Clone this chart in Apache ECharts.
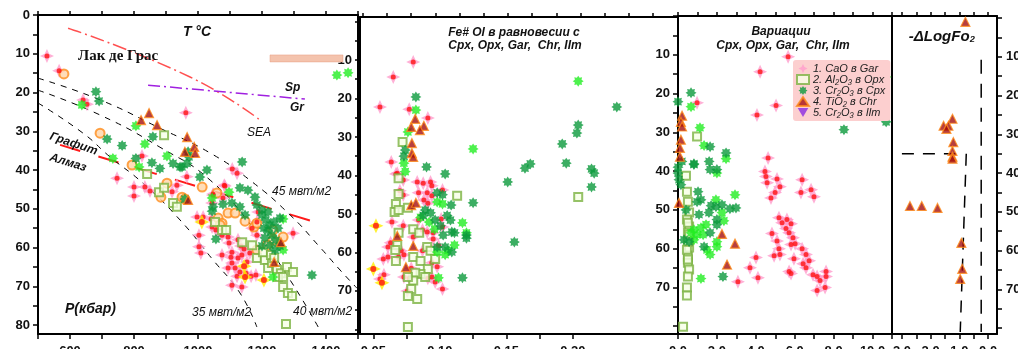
<!DOCTYPE html>
<html>
<head>
<meta charset="utf-8">
<script src="https://cdn.jsdelivr.net/npm/echarts@6.0.0/dist/echarts.min.js"></script>
<style>
  html, body { margin: 0; padding: 0; background: #fff; }
  #chart-container { width: 1018px; height: 349px; }
</style>
</head>
<body>
<div id="chart-container"></div>
<script>
// ---- axis ticks / labels ----
const p1XTicks = [500, 600, 700, 800, 900, 1000, 1100, 1200, 1300, 1400, 1500];
const p1XLabels = [600, 800, 1000, 1200, 1400];
const p2XTicks = [0.05, 0.075, 0.1, 0.125, 0.15, 0.175, 0.2];
const p2XLabels = [0.05, 0.1, 0.15, 0.2];
const p2TopTicks = [0.042, 0.06, 0.078, 0.097, 0.115, 0.133, 0.151, 0.169, 0.188, 0.206, 0.224, 0.242, 0.26];
const p3XTicks = [0, 1, 2, 3, 4, 5, 6, 7, 8, 9, 10, 11];
const p3XLabels = [0, 2, 4, 6, 8, 10];
const p4XTicks = [-3, -2.5, -2, -1.5, -1, -0.5, 0];
const p4XLabels = [-3, -2, -1, 0];
const pTicks = [0, 5, 10, 15, 20, 25, 30, 35, 40, 45, 50, 55, 60, 65, 70, 75, 80];
const p1YLabels = [0, 10, 20, 30, 40, 50, 60, 70, 80];
const pYLabels = [10, 20, 30, 40, 50, 60, 70];

// ---- panel 1 : T (°C) vs P (kbar) ----
const gar1 = [[528,10.6],[566,14.4],[641,21.9],[653,23],[962,25.2],[825,36.4],[1107,39.7],[1122,40.8],
  [747,42.1],[800,44.4],[800,46.7],[834,44.4],[850,45.4],[919,45.6],[934,43.9],[965,41.7],
  [997,52.1],[1003,56.8],[1003,59.8],[1009,61.4],[1016,52.1],[1044,54.7],[1082,43.9],[1047,46.5],
  [1084,44.1],[1047,46.2],[1041,52.6],[1056,55.5],[1075,56.8],[1094,57.3],[1075,61.9],[1097,58.8],
  [1106,61.2],[1125,58],[1134,59.6],[1144,60.4],[1103,62.5],[1125,62.7],[1106,64],[1116,65.3],
  [1131,66.3],[1094,65.3],[1150,66.6],[1166,67.4],[1181,67.1],[1137,70.2],[1122,67.4],[1169,55],
  [1184,53.4],[1184,56.8],[1188,50.8],[1162,61.4],[1153,63.7],[1137,61.9],[1297,56.3],[1044,48.5],
  [1078,47.2],[1106,69.7]];
const yel1 = [[1012,53.4],[1144,64.8],[1147,67.6],[1206,68.4]];
const ring1 = [[581,15.2],[694,30.5],[794,38.7],[903,43.4],[884,47],[950,47],[959,47.5],[1013,44.4],
  [1059,45.9],[1063,52.4],[1075,53.7],[1094,51.1],[1116,51.1],[1147,53.2],[1175,54.7],[1184,53.7],
  [1184,60.6],[1234,55.5],[1234,58.1],[1266,57.3],[1216,59.4],[1069,54.2]];
const opx1 = [[894,31],[841,41],[878,45.7],[894,44.6],[922,48.5],[934,49.5],[1053,53.4],[1075,55.5],
  [1088,55.5],[1138,58.6],[1169,59.4],[1184,62.7],[1209,63.2],[1219,65.3],[1231,64],[1247,65.8],
  [1259,66.6],[1250,67.6],[1266,67.6],[1278,65],[1297,66.3],[1266,70.2],[1281,71.7],[1294,72.5],
  [1275,79.7],[1203,61.2],[1228,61.9],[1238,62.7]];
const cpxD1 = [[681,19.8],[691,22.2],[716,32],[763,33.7],[856,38.1],[859,31.4],[922,38.3],[944,39.2],
  [881,39.6],[969,35.3],[972,36.6],[966,38.3],[1028,40],[1138,37.9],[806,37],[950,39.2],[1006,41.8],
  [1131,44.6],[1156,45.2],[1178,47],[1184,49],[1200,50.3],[959,47.5],[1047,49.5],[1044,50.6],
  [1078,48.8],[1106,48.5],[1131,49.5],[1147,51.6],[1056,57.8],[1200,51.6],[1212,52.9],[1225,54.2],
  [1237,53.4],[1219,55.5],[1231,56.8],[1209,57.5],[1244,58.1],[1225,59.4],[1250,55],[1256,52.4],
  [1206,55],[1200,59.6],[1241,60.6],[1256,59.6],[1219,50.8],[1356,67.1]];
const cpxL1 = [[637,23.2],[806,28.6],[834,33.3],[903,36.4],[816,39.2],[734,37],[1097,45.7],[1266,52.6],
  [1266,60.6],[1234,67.6],[1044,47.2],[1434,15.5],[1469,14.9]];
const chr1 = [[847,25.3],[822,27.1],[872,28.4],[966,31.5],[988,34],[991,35.6],[959,35.3],[969,47.7],
  [1238,63.7],[1259,58.6]];

// panel 1 reference lines
const seaLine = [[594,3.4],[975,16],[1194,27.1]];
const spGrLine = [[844,18.1],[1334,21.7]];
const grDiaLine = [[569,33.5],[1397,54.2]];
const geo45 = [[500,16.3],[694,21.9],[881,29.2],[1038,35.6],[1162,42.6],[1288,51.6],[1381,59.9],[1444,65.8],[1497,70.5]];
const geo40 = [[500,19.4],[694,25.8],[881,34.1],[1038,42.6],[1178,55.5],[1288,68.4],[1381,81.3]];
const geo35 = [[500,22.7],[641,30.5],[725,36.6],[828,43.4],[944,52.9],[1047,63.2],[1131,71.7],[1184,80.5]];
const hatchBox = [[1225,10.3],[1453,12.1]];

// ---- panel 2 : Fe# Ol vs P ----
const gar2 = [[0.080,10.5],[0.065,14.4],[0.055,22.2],[0.077,22.8],[0.091,25.1],[0.0635,36.5],[0.068,39.4],
  [0.067,39.6],[0.0725,41.2],[0.070,44],[0.0725,45.1],[0.083,41.7],[0.0875,42],[0.093,41.7],[0.094,42.7],
  [0.084,44.5],[0.0905,44.5],[0.094,45.3],[0.088,46.4],[0.102,43.8],[0.091,47.2],[0.064,52.1],[0.0725,53.1],
  [0.084,51.6],[0.087,54.2],[0.0905,54.7],[0.095,54.9],[0.101,51.3],[0.102,53.4],[0.080,56],[0.063,57.5],
  [0.061,58.6],[0.071,59.6],[0.073,60.6],[0.069,61.2],[0.0575,61.7],[0.061,61.2],[0.087,59.6],[0.095,56.5],
  [0.099,58.3],[0.094,62.7],[0.098,63.7],[0.094,66.4],[0.0965,67.7],[0.073,66.4],[0.077,66.7],[0.0785,64.1],
  [0.058,65.8],[0.055,66.9],[0.0755,70],[0.102,69.5],[0.091,66.7]];
const yel2 = [[0.052,53.1],[0.050,64.3],[0.0565,67.9]];
const opx2 = [[0.072,31.3],[0.069,40.7],[0.069,44.8],[0.067,47.4],[0.066,49.5],[0.069,49],[0.076,48.4],
  [0.113,45.3],[0.204,45.6],[0.069,54.9],[0.080,54],[0.0845,54.9],[0.068,58.1],[0.0665,59.4],[0.067,62.2],
  [0.080,61.2],[0.0855,62.2],[0.0905,58.6],[0.093,59.6],[0.0965,61.7],[0.091,64.3],[0.0855,65.6],
  [0.0815,65.3],[0.089,66.4],[0.080,67.3],[0.076,66.4],[0.0785,69.5],[0.076,71.3],[0.083,72.1],[0.076,79.4]];
const cpxD2 = [[0.082,19.6],[0.074,33.4],[0.073,35],[0.090,37.8],[0.104,39.6],[0.233,22.2],[0.192,31.8],
  [0.203,29],[0.204,26.9],[0.195,36.8],[0.168,37],[0.164,38.1],[0.214,38.3],[0.216,39.4],[0.098,44.5],
  [0.102,45],[0.1085,47.7],[0.125,47.1],[0.151,41.7],[0.156,57.3],[0.214,43],[0.117,66.6],[0.089,49],
  [0.0965,51.6],[0.1025,55.5],[0.108,51.6],[0.109,54.7],[0.111,54.9],[0.120,55.5],[0.120,56.3],
  [0.104,58.6],[0.109,59.9],[0.098,58.6],[0.1005,53.1],[0.0875,50.4],[0.093,49.7],[0.1055,50.4]];
const cpxL2 = [[0.204,15.5],[0.082,23],[0.076,28.7],[0.073,36.8],[0.074,39],[0.125,33.1],[0.098,46.9],
  [0.102,47.4],[0.117,52.3],[0.120,54.9],[0.111,58.1],[0.104,60.6],[0.098,59.9],[0.099,66.6],
  [0.0855,50.9],[0.092,52.1],[0.096,54],[0.106,59.5]];
const chr2 = [[0.0815,25.3],[0.0785,27.4],[0.088,27.1],[0.085,28.2],[0.079,31.6],[0.079,34.2],[0.080,35.2],
  [0.0785,47.7],[0.082,47.1],[0.068,55.7],[0.080,58.3],[0.0745,63.8]];

// ---- panel 3 : oxide wt% vs P ----
const gar3 = [[5.66,10.5],[4.22,14.4],[0.98,22.4],[4.06,25.5],[5.04,23.1],[4.63,36.6],[4.47,40.1],[4.52,41.4],
  [4.58,43],[5.09,42],[5.24,44],[4.99,45.5],[4.78,46.9],[6.38,42.2],[6.32,45.5],[6.84,44.8],[6.99,46.6],
  [5.19,52],[5.35,53.3],[5.6,52.5],[5.81,53.6],[5.55,54.8],[5.71,55.9],[4.83,56.1],[5.09,58],[5.91,57.2],
  [6.02,58.7],[5.81,58.9],[5.19,60],[4.94,61.8],[5.24,61.5],[6.38,60],[6.58,61.5],[5.96,62.6],[6.74,63.1],
  [6.43,63.9],[6.58,64.9],[5.71,65.9],[5.81,66.4],[6.94,66.7],[7.15,67.2],[7.61,65.9],[7.61,67.2],
  [7.3,68.2],[7.56,70],[7.15,70.8],[4.01,62.3],[3.7,64.9],[4.11,67.5],[3.08,68.5]];
const opx3 = [[0.98,31.1],[0.41,41.2],[0.46,45.3],[0.51,47.9],[0.57,50.7],[0.46,52.5],[0.57,54.3],[0.51,55.9],
  [0.57,57.7],[0.57,59.7],[0.51,62.1],[0.51,63.6],[0.57,65.4],[0.51,67.2],[0.46,70],[0.46,72.1],[0.26,80.1],
  [0.51,53.3],[0.57,56.4],[0.51,58.2],[0.46,60.3],[0.51,62.8]];
const cpxD3 = [[0.67,19.8],[0,22.1],[1.65,33.7],[2.47,35.3],[0.82,38.1],[1.6,37.5],[1.65,39.6],[2.0,39.6],
  [8.53,29.3],[10.7,27.3],[0.05,42.2],[0.15,43.5],[1.03,45.3],[1.18,47.4],[0.98,47.9],[1.7,48.9],[1.95,49.2],
  [2.26,48.7],[2.67,49.7],[2.98,49.5],[2.0,52.5],[1.59,50.7],[1.08,51.2],[0.41,50],[0.31,57.7],[0.57,58.2],
  [1.34,59.5],[1.65,55.9],[2.0,53.8],[2.31,67.2],[0.0,40.5],[0.0,39],[0.2,37.5],[0.82,38.3]];
const cpxL3 = [[0.67,23.4],[1.13,28.8],[1.34,33.4],[2.47,36.8],[10.7,15.7],[2.0,40.5],[2.93,46.1],[1.95,47.4],
  [2.26,50.7],[2.36,52.8],[0.82,55.1],[1.18,54.6],[1.44,53.8],[0.98,56.4],[1.29,56.4],[1.49,60.3],[2.0,58.2],
  [2.0,59.5],[1.65,61.5],[1.18,67.7],[0.67,55.9],[0.82,57.7]];
const chr3 = [[0.21,25.7],[0.15,27.3],[0.21,28.5],[0.15,31.9],[0.1,34],[0.1,36.3],[0.05,48.2],[2.26,56.2],
  [2.93,58.7],[2.52,64.1]];

// ---- panel 4 : -dLogFO2 vs P ----
const chr4 = [[-0.79,1],[-1.24,26],[-1.55,27.8],[-1.38,27.8],[-1.45,28.6],[-1.21,32],[-1.24,34.3],[-1.24,35.8],
  [-1.24,36.3],[-2.72,48.5],[-2.31,48.5],[-1.76,49],[-0.93,58],[-0.9,64.7],[-0.97,67.3]];
const fo2H = [[-3,35],[-1,35]];
const fo2S = [[-0.76,35],[-0.97,81]];
const fo2V = [[-0.24,10.8],[-0.24,81]];

const FONT = "'Liberation Sans', Arial, sans-serif";
const SPARK = "path://M0,-10L3.2,-3.2L10,0L3.2,3.2L0,10L-3.2,3.2L-10,0L-3.2,-3.2Z";
const STAR = "path://M10,0L6,2.5L7.07,7.07L2.5,6L0,10L-2.5,6L-7.07,7.07L-6,2.5L-10,0L-6,-2.5L-7.07,-7.07L-2.5,-6L0,-10L2.5,-6L7.07,-7.07L6,-2.5Z";
const DOWN = "path://M-10,-8L10,-8L0,9Z";

const NAMES = ["1. CaO в Gar", "2. Al₂O₃ в Opx", "3. Cr₂O₃ в Cpx", "4. TiO₂ в Chr", "5. Cr₂O₃ в Ilm"];

const grids = [
  { left: 38, top: 15, width: 320, height: 319 },
  { left: 360, top: 17, width: 318, height: 317 },
  { left: 678, top: 16, width: 214, height: 318 },
  { left: 892, top: 16, width: 105, height: 318 },
].map((g) => Object.assign({ containLabel: false, outerBoundsMode: "none" }, g));

const lineStyleAxis = { color: "#000", width: 2 };
const labelStyle = { fontFamily: FONT, fontSize: 13, fontWeight: "bold", color: "#111" };

function xAxisMain(gi, min, max, ticks, labels, fmt) {
  return {
    type: "value", gridIndex: gi, min, max, position: "bottom",
    axisLine: { onZero: false, lineStyle: lineStyleAxis },
    axisTick: { show: true, length: 5, customValues: ticks, lineStyle: { width: 1.5, color: "#000" } },
    axisLabel: Object.assign({ show: true, margin: 11, customValues: labels, formatter: fmt }, labelStyle),
    splitLine: { show: false },
  };
}
function xAxisTop(gi, min, max, ticks) {
  return {
    type: "value", gridIndex: gi, min, max, position: "top",
    axisLine: { onZero: false, lineStyle: lineStyleAxis },
    axisTick: { show: true, length: 4, customValues: ticks, lineStyle: { width: 1.5, color: "#000" } },
    axisLabel: { show: false },
    splitLine: { show: false },
  };
}
function yAxisMain(gi, min, max, labels, pos, margin) {
  return {
    type: "value", gridIndex: gi, min, max, inverse: true, position: pos,
    axisLine: { onZero: false, lineStyle: lineStyleAxis },
    axisTick: { show: true, length: 5, customValues: pTicks, lineStyle: { width: 1.5, color: "#000" } },
    axisLabel: Object.assign({ show: true, margin: margin || 8, customValues: labels }, labelStyle),
    splitLine: { show: false },
  };
}
function yAxisEdge(gi, min, max, pos) {
  return {
    type: "value", gridIndex: gi, min, max, inverse: true, position: pos,
    axisLine: { onZero: false, lineStyle: lineStyleAxis },
    axisTick: { show: false }, axisLabel: { show: false }, splitLine: { show: false },
  };
}

const yExt = [[0, 82.3], [-1.17, 81.2], [0, 82], [-0.5, 81.5]];

const xAxes = [
  xAxisMain(0, 500, 1500, p1XTicks, p1XLabels, (v) => String(v)),
  xAxisMain(1, 0.04, 0.279, p2XTicks, p2XLabels, (v) => v.toFixed(2)),
  xAxisMain(2, 0, 11, p3XTicks, p3XLabels, (v) => v.toFixed(1)),
  xAxisMain(3, -3.345, 0.31, p4XTicks, p4XLabels, (v) => Math.abs(v).toFixed(1)),
  xAxisTop(0, 500, 1500, p1XTicks),
  xAxisTop(1, 0.04, 0.279, p2TopTicks),
  xAxisTop(2, 0, 11, p3XTicks),
  xAxisTop(3, -3.345, 0.31, p4XTicks),
];
const yAxes = [
  yAxisMain(0, yExt[0][0], yExt[0][1], p1YLabels, "left"),
  yAxisMain(1, yExt[1][0], yExt[1][1], pYLabels, "left"),
  yAxisMain(2, yExt[2][0], yExt[2][1], pYLabels, "left"),
  yAxisMain(3, yExt[3][0], yExt[3][1], pYLabels, "right", 9),
  yAxisEdge(0, yExt[0][0], yExt[0][1], "right"),
  yAxisEdge(1, yExt[1][0], yExt[1][1], "right"),
  yAxisEdge(2, yExt[2][0], yExt[2][1], "right"),
  yAxisEdge(3, yExt[3][0], yExt[3][1], "left"),
];

function sc(name, data, i, symbol, size, itemStyle, z) {
  return {
    type: "scatter", name, data, xAxisIndex: i, yAxisIndex: i,
    symbol, symbolSize: size, itemStyle, z: z || 2, silent: true,
  };
}
function ln(data, i, color, width, dash, smooth, extra) {
  return Object.assign({
    type: "line", data, xAxisIndex: i, yAxisIndex: i, symbol: "none", smooth: !!smooth,
    lineStyle: { color, width, type: dash }, z: 1, silent: true,
  }, extra || {});
}

const garS = [gar1, gar2, gar3, []];
const yelS = [yel1, yel2, [], []];
const ringS = [ring1, [], [], []];
const opxS = [opx1, opx2, opx3, []];
const cpxDS = [cpxD1, cpxD2, cpxD3, []];
const cpxLS = [cpxL1, cpxL2, cpxL3, []];
const chrS = [chr1, chr2, chr3, chr4];

const series = [];
// reference lines
series.push(ln(seaLine, 0, "#ff5050", 1.5, [14, 4, 2, 4], true, {
  markArea: {
    silent: true,
    itemStyle: { color: "#f4c3ad", borderColor: "#e89c80", borderWidth: 0.5 },
    data: [[{ coord: hatchBox[0] }, { coord: hatchBox[1] }]],
  },
}));
series.push(ln(spGrLine, 0, "#a020e0", 1.5, [12, 4, 2, 4]));
series.push(ln(grDiaLine, 0, "#ff1a1a", 2, [21, 19]));
series.push(ln(geo45, 0, "#000", 1, [6, 6], true));
series.push(ln(geo40, 0, "#000", 1, [6, 6], true));
series.push(ln(geo35, 0, "#000", 1, [6, 6], true));
series.push(ln(fo2H, 3, "#000", 1.5, [12, 9]));
series.push(ln(fo2S, 3, "#000", 1.5, [12, 9]));
series.push(ln(fo2V, 3, "#000", 1.5, [14, 10]));

for (let i = 0; i < 4; i++) {
  series.push(sc(NAMES[0], garS[i], i, SPARK, 14, { color: "#ff9ccc" }));
  series.push(sc("gar-core", garS[i], i, "circle", 5, { color: "#ff1010" }, 3));
  series.push(sc("gar-yellow", yelS[i], i, SPARK, 15, { color: "#ffee00" }, 3));
  series.push(sc("gar-yellow-core", yelS[i], i, "circle", 6, { color: "#ff1010" }, 3));
  series.push(sc("ring", ringS[i], i, "circle", 9, { color: "#ffd4a8", borderColor: "#ff8c1a", borderWidth: 2 }));
  series.push(sc(NAMES[1], opxS[i], i, "rect", 8, { color: "#f6ffe6", borderColor: "#7cb342", borderWidth: 2 }, 3));
  series.push(sc("cpx-light", cpxLS[i], i, STAR, 11, { color: "#22ee22" }, 3));
  series.push(sc(NAMES[2], cpxDS[i], i, STAR, 11, { color: "#0b9a3c" }, 3));
  series.push(sc(NAMES[3], chrS[i], i, "triangle", 9, { color: "#a50f0f", borderColor: "#ff8c1a", borderWidth: 1.2 }, 4));
}
series.push(sc(NAMES[4], [], 2, DOWN, 9, { color: "#8a2be2" }));

function txt(s, x, y, font, align, rot) {
  return {
    type: "text", x, y, rotation: rot || 0, z: 100, silent: true,
    style: {
      text: s, font, fill: "#111",
      textAlign: align || "left", align: align || "left",
      textVerticalAlign: "middle", verticalAlign: "middle",
    },
  };
}
const BI12 = "italic bold 12px " + FONT;
const I12 = "italic 12px " + FONT;

const dom = document.getElementById("chart-container");
const myChart = echarts.init(dom, null, { renderer: "canvas" });

const option = {
  animation: false,
  backgroundColor: "#ffffff",
  grid: grids,
  xAxis: xAxes,
  yAxis: yAxes,
  legend: {
    data: NAMES.map((n) => ({ name: n })),
    orient: "vertical",
    left: 793, top: 60,
    padding: [3, 5, 3, 3],
    itemGap: 0,
    itemWidth: 12, itemHeight: 9,
    backgroundColor: "#fccfcf",
    borderRadius: 3,
    selectedMode: false,
    textStyle: { fontFamily: FONT, fontSize: 11, fontStyle: "italic", color: "#222", padding: [0, 0, 0, -1] },
  },
  graphic: [
    txt("T °C", 197, 32, "italic bold 14px " + FONT, "center"),
    txt("Лак де Грас", 78, 56, "bold 15px 'Liberation Serif', 'Times New Roman', serif"),
    txt("Sp", 285, 88, BI12),
    txt("Gr", 290, 108, BI12),
    txt("SEA", 247, 133, I12),
    txt("Графит", 50, 136, BI12, "left", -0.32),
    txt("Алмаз", 50, 157, BI12, "left", -0.3),
    txt("45 мвт/м2", 272, 192, I12),
    txt("35 мвт/м2", 192, 313, I12),
    txt("40 мвт/м2", 293, 312, I12),
    txt("P(кбар)", 65, 309, "italic bold 14px " + FONT),
    txt("Fe# Ol в равновесии с", 514, 33, BI12, "center"),
    txt("Cpx, Opx, Gar,  Chr, Ilm", 515, 46, BI12, "center"),
    txt("Вариации", 781, 32, BI12, "center"),
    txt("Cpx, Opx, Gar,  Chr, Ilm", 783, 46, BI12, "center"),
    txt("-ΔLogFo₂", 942, 37, "italic bold 15px " + FONT, "center"),
  ],
  series,
};

myChart.setOption(option);
window.addEventListener("resize", myChart.resize);
</script>
</body>
</html>
